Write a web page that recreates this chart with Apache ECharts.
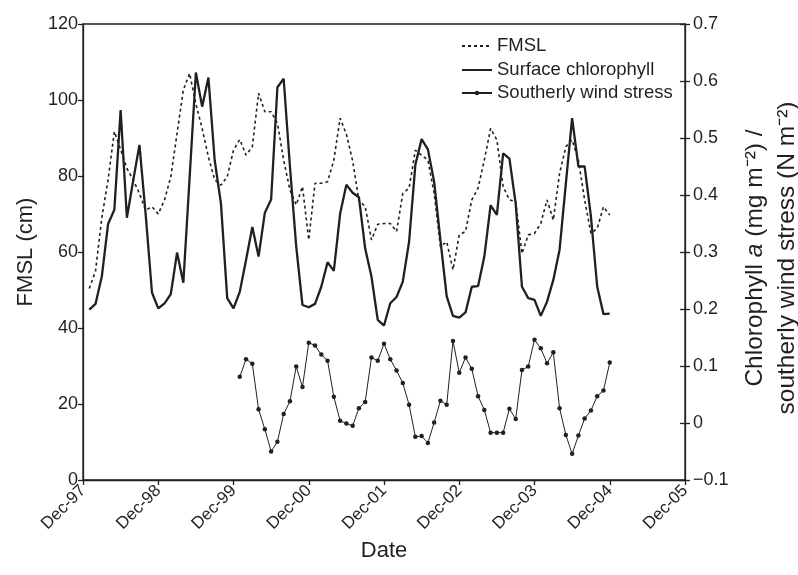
<!DOCTYPE html>
<html style="height: 100%">
<head>
    <meta charset="utf-8">
    <script src="https://cdn.jsdelivr.net/npm/echarts@6/dist/echarts.min.js"></script>
</head>
<body style="height:100%;margin:0;background:#fff">
    <div id="main" style="width:798px;height:575px;"></div>
    <script type="text/javascript">

        // x axis: months counted from Dec-97
        var tickLabels = ['Dec-97', 'Dec-98', 'Dec-99', 'Dec-00', 'Dec-01', 'Dec-02', 'Dec-03', 'Dec-04', 'Dec-05'];
        var firstMonth = 1;      // Jan-98
        var windFirstMonth = 25; // Jan-00

        // FMSL (cm), monthly Jan-98 .. Dec-04
        var fmsl = [
            50.4, 55, 69, 79, 91.7, 87, 82, 79, 75.4, 71, 71.9, 70,
            73.7, 79.8, 91.2, 102.6, 107, 99, 92.5, 85, 79, 77.6, 79.8, 86.8,
            89.6, 85.5, 87.7, 101.8, 96.9, 96.9, 93.9, 84.2, 76.3, 72.4, 77.2, 63.2,
            78.1, 78.1, 78.5, 84.2, 95.2, 91, 84, 73.5, 72, 63.2, 67.3, 67.5,
            67.5, 65.4, 75.4, 76.8, 86.8, 85.5, 84.2, 75.4, 61.4, 62.7, 55.3, 64.5,
            65.4, 73.7, 76.8, 84.2, 92.5, 89.5, 77.2, 73.7, 73.3, 59.6, 64.5, 64.9,
            67.5, 73.7, 68.4, 80.7, 87.7, 89.5, 84.2, 73.7, 64.9, 66.2, 71.9, 69.7
        ];

        // surface chlorophyll a (mg m-2), monthly Jan-98 .. Dec-04
        var chlorophyll = [
            0.199, 0.209, 0.257, 0.349, 0.374, 0.549, 0.360, 0.425, 0.488, 0.365, 0.229, 0.201,
            0.210, 0.226, 0.299, 0.246, 0.430, 0.615, 0.555, 0.606, 0.461, 0.385, 0.219, 0.201,
            0.230, 0.286, 0.344, 0.292, 0.369, 0.392, 0.589, 0.604, 0.450, 0.310, 0.207, 0.203,
            0.209, 0.239, 0.282, 0.267, 0.367, 0.418, 0.404, 0.396, 0.306, 0.257, 0.181, 0.171,
            0.210, 0.221, 0.248, 0.318, 0.453, 0.498, 0.480, 0.423, 0.321, 0.222, 0.188, 0.185,
            0.194, 0.239, 0.240, 0.292, 0.382, 0.365, 0.473, 0.464, 0.385, 0.239, 0.219, 0.216,
            0.188, 0.213, 0.251, 0.304, 0.420, 0.535, 0.450, 0.450, 0.362, 0.239, 0.191, 0.192
        ];

        // southerly wind stress (N m-2), monthly Jan-00 .. Dec-04
        var windStress = [
            0.081, 0.112, 0.104, 0.024, -0.011, -0.050, -0.033, 0.016, 0.038, 0.099, 0.063, 0.141,
            0.136, 0.120, 0.109, 0.046, 0.004, -0.001, -0.005, 0.026, 0.037, 0.115, 0.109, 0.139,
            0.112, 0.092, 0.070, 0.032, -0.024, -0.023, -0.035, 0.001, 0.039, 0.032, 0.144, 0.088,
            0.115, 0.095, 0.047, 0.023, -0.017, -0.017, -0.017, 0.025, 0.007, 0.093, 0.099, 0.146,
            0.131, 0.105, 0.124, 0.026, -0.021, -0.054, -0.022, 0.008, 0.022, 0.047, 0.057, 0.106
        ];

        function toPairs(values, start) {
            return values.map(function (v, i) { return [start + i, v]; });
        }

        var ink = '#231f20';
        var font = 'Liberation Sans, Arial, Helvetica, sans-serif';
        var legendText = { fontFamily: font, fontSize: 18.5, lineHeight: 20, color: ink };

        var myChart = echarts.init(document.getElementById('main'));

        var option = {
            animation: false,
            backgroundColor: '#fff',
            textStyle: { fontFamily: font, color: ink },
            grid: {
                left: 83, right: 113, top: 24, bottom: 95,
                outerBoundsMode: 'none',
                show: true, borderColor: ink, borderWidth: 1.3
            },
            legend: [
                {
                    // line-only entries: hide the marker the line legend puts in the middle
                    orient: 'vertical',
                    left: 456,
                    top: 31,
                    itemWidth: 30,
                    itemHeight: 14,
                    itemGap: 4,
                    textStyle: legendText,
                    data: [
                        { name: 'FMSL', itemStyle: { opacity: 0 } },
                        { name: 'Surface chlorophyll', itemStyle: { opacity: 0 } }
                    ]
                },
                {
                    orient: 'vertical',
                    left: 456,
                    top: 78,
                    itemWidth: 30,
                    itemHeight: 5.5,
                    textStyle: legendText,
                    data: ['Southerly wind stress']
                }
            ],
            xAxis: {
                type: 'value',
                min: 0,
                max: 96,
                interval: 12,
                name: 'Date',
                nameLocation: 'middle',
                nameGap: 60,
                nameTextStyle: { fontSize: 22, color: ink },
                splitLine: { show: false },
                axisLine: { lineStyle: { color: ink, width: 1.3 } },
                axisTick: { length: 5, lineStyle: { color: ink, width: 1.3 } },
                axisLabel: {
                    rotate: 45,
                    margin: 8,
                    fontSize: 17,
                    color: ink,
                    formatter: function (v) { return tickLabels[Math.round(v / 12)]; }
                }
            },
            yAxis: [
                {
                    type: 'value',
                    min: 0,
                    max: 120,
                    interval: 20,
                    position: 'left',
                    name: 'FMSL (cm)',
                    nameLocation: 'middle',
                    nameGap: 32,
                    nameTextStyle: { fontSize: 22, color: ink },
                    splitLine: { show: false },
                    axisLine: { show: true, lineStyle: { color: ink, width: 1.3 } },
                    axisTick: { show: true, length: 5, lineStyle: { color: ink, width: 1.3 } },
                    axisLabel: { fontSize: 18, color: ink, margin: 5 }
                },
                {
                    type: 'value',
                    min: -0.1,
                    max: 0.7,
                    interval: 0.1,
                    position: 'right',
                    name: 'Chlorophyll {i|a} (mg m\u207b\u00b2) /\nsoutherly wind stress (N m\u207b\u00b2)',
                    nameLocation: 'middle',
                    nameRotate: 90,
                    nameGap: 45,
                    nameTextStyle: {
                        fontSize: 24.5,
                        lineHeight: 32,
                        color: ink,
                        padding: [0, 12, 0, 0],
                        rich: { i: { fontStyle: 'italic', fontSize: 24.5, lineHeight: 32, color: ink } }
                    },
                    splitLine: { show: false },
                    axisLine: { show: true, lineStyle: { color: ink, width: 1.3 } },
                    axisTick: { show: true, length: 5, lineStyle: { color: ink, width: 1.3 } },
                    axisLabel: {
                        fontSize: 18,
                        color: ink,
                        margin: 8,
                        formatter: function (v) {
                            var r = Math.round(v * 10) / 10;
                            if (r === 0) return '0';
                            return r < 0 ? '\u2212' + Math.abs(r).toFixed(1) : r.toFixed(1);
                        }
                    }
                },
                {
                    // inner half of the right-hand ticks
                    type: 'value',
                    min: -0.1,
                    max: 0.7,
                    interval: 0.1,
                    position: 'right',
                    splitLine: { show: false },
                    axisLine: { show: false },
                    axisTick: { show: true, inside: true, length: 5, lineStyle: { color: ink, width: 1.3 } },
                    axisLabel: { show: false }
                }
            ],
            series: [
                {
                    name: 'FMSL',
                    type: 'line',
                    yAxisIndex: 0,
                    symbol: 'none',
                    data: toPairs(fmsl, firstMonth),
                    lineStyle: { color: ink, width: 1.6, type: [3, 3] },
                    itemStyle: { color: ink }
                },
                {
                    name: 'Surface chlorophyll',
                    type: 'line',
                    yAxisIndex: 1,
                    symbol: 'none',
                    data: toPairs(chlorophyll, firstMonth),
                    lineStyle: { color: ink, width: 2.3 },
                    itemStyle: { color: ink }
                },
                {
                    name: 'Southerly wind stress',
                    type: 'line',
                    yAxisIndex: 1,
                    symbol: 'circle',
                    symbolSize: 4.5,
                    showSymbol: true,
                    data: toPairs(windStress, windFirstMonth),
                    lineStyle: { color: ink, width: 1 },
                    itemStyle: { color: ink }
                }
            ]
        };
        myChart.setOption(option);
    </script>
</body>
</html>
